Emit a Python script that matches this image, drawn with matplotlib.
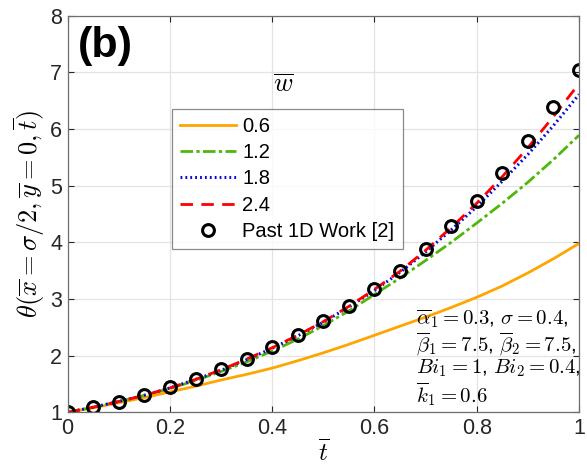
import matplotlib
matplotlib.use("Agg")
import matplotlib.pyplot as plt

plt.rcParams["font.family"] = ["Liberation Sans", "DejaVu Sans"]
plt.rcParams["mathtext.fontset"] = "cm"

# time grid and curves for each w-bar value
t = [0.00, 0.05, 0.10, 0.15, 0.20, 0.25, 0.30, 0.35, 0.40, 0.45, 0.50,
     0.55, 0.60, 0.65, 0.70, 0.75, 0.80, 0.85, 0.90, 0.95, 1.00]

theta_06 = [1.00, 1.08, 1.17, 1.26, 1.36, 1.46, 1.57, 1.67, 1.78, 1.91, 2.05,
            2.20, 2.36, 2.52, 2.68, 2.85, 3.03, 3.23, 3.46, 3.71, 3.98]
theta_12 = [1.00, 1.09, 1.19, 1.30, 1.42, 1.56, 1.72, 1.89, 2.08, 2.29, 2.53,
            2.79, 3.08, 3.37, 3.68, 4.00, 4.34, 4.69, 5.06, 5.46, 5.89]
theta_18 = [1.00, 1.09, 1.19, 1.30, 1.43, 1.58, 1.74, 1.93, 2.13, 2.35, 2.59,
            2.86, 3.15, 3.47, 3.83, 4.22, 4.63, 5.08, 5.55, 6.06, 6.61]
theta_24 = [1.00, 1.09, 1.19, 1.30, 1.43, 1.58, 1.75, 1.94, 2.14, 2.36, 2.60,
            2.87, 3.17, 3.49, 3.86, 4.26, 4.69, 5.16, 5.67, 6.22, 6.80]

# past 1D work [2]
t_past = t
theta_past = [1.00, 1.09, 1.19, 1.30, 1.44, 1.58, 1.76, 1.94, 2.15, 2.37, 2.61,
              2.88, 3.18, 3.50, 3.88, 4.29, 4.73, 5.23, 5.78, 6.38, 7.04]

labels = ["0.6", "1.2", "1.8", "2.4"]

fig = plt.figure(figsize=(5.87, 4.68), dpi=100)
ax = fig.add_axes([0.1153, 0.119, 0.8711, 0.8475])

ax.plot(t, theta_06, color="#FFA500", lw=2.0, label=labels[0])
ax.plot(t, theta_12, color="#4DB80A", lw=2.0, dashes=(4.5, 1.2, 1.2, 1.2), label=labels[1])
ax.plot(t, theta_18, color="#0A0AD2", lw=2.2, dashes=(0.6, 1.0), label=labels[2])
ax.plot(t, theta_24, color="#FF0000", lw=2.0, dashes=(4.5, 3.0), label=labels[3])
ax.plot(t_past, theta_past, "o", ms=8.5, mfc="none", mec="black", mew=2.2,
        label="Past 1D Work [2]")

ax.set_xlim(0, 1)
ax.set_ylim(1, 8)
ax.set_xticks([0, 0.2, 0.4, 0.6, 0.8, 1])
ax.set_xticklabels(["0", "0.2", "0.4", "0.6", "0.8", "1"])
ax.set_yticks(range(1, 9))
ax.tick_params(direction="in", length=4, width=0.8, labelsize=15.5,
               colors="#262626", pad=4, top=True, right=True)
ax.grid(True, color="#E3E3E3", lw=0.9)
ax.set_axisbelow(True)
for sp in ax.spines.values():
    sp.set_color("#6E6E6E")
    sp.set_linewidth(0.9)

ax.set_xlabel(r"$\overline{t}$", fontsize=18, labelpad=0)
ax.set_ylabel(r"$\theta(\overline{x}=\sigma/2, \overline{y}=0, \overline{t})$",
              fontsize=19, labelpad=2)

ax.text(0.02, 0.975, "(b)", transform=ax.transAxes, fontsize=31,
        fontweight="bold", va="top", ha="left")

leg = ax.legend(loc="upper left", bbox_to_anchor=(0.204, 0.765),
                fontsize=14.5, frameon=True, fancybox=False, handlelength=2.8,
                handletextpad=0.3, borderpad=0.4, labelspacing=0.36,
                borderaxespad=0)
leg.get_frame().set_edgecolor("#6E6E6E")
leg.get_frame().set_linewidth(0.9)
ax.text(0.422, 0.825, r"$\overline{w}$", transform=ax.transAxes, fontsize=19,
        ha="center", va="center")

ax.text(0.682, 0.012,
        "$\\overline{\\alpha}_1=0.3$, $\\sigma=0.4$,\n"
        "$\\overline{\\beta}_1=7.5$, $\\overline{\\beta}_2=7.5$,\n"
        "$Bi_1=1$, $Bi_2=0.4$,\n"
        "$\\overline{k}_1=0.6$",
        transform=ax.transAxes, fontsize=15, ha="left", va="bottom",
        linespacing=1.02)

fig.savefig("out.png", dpi=100)
